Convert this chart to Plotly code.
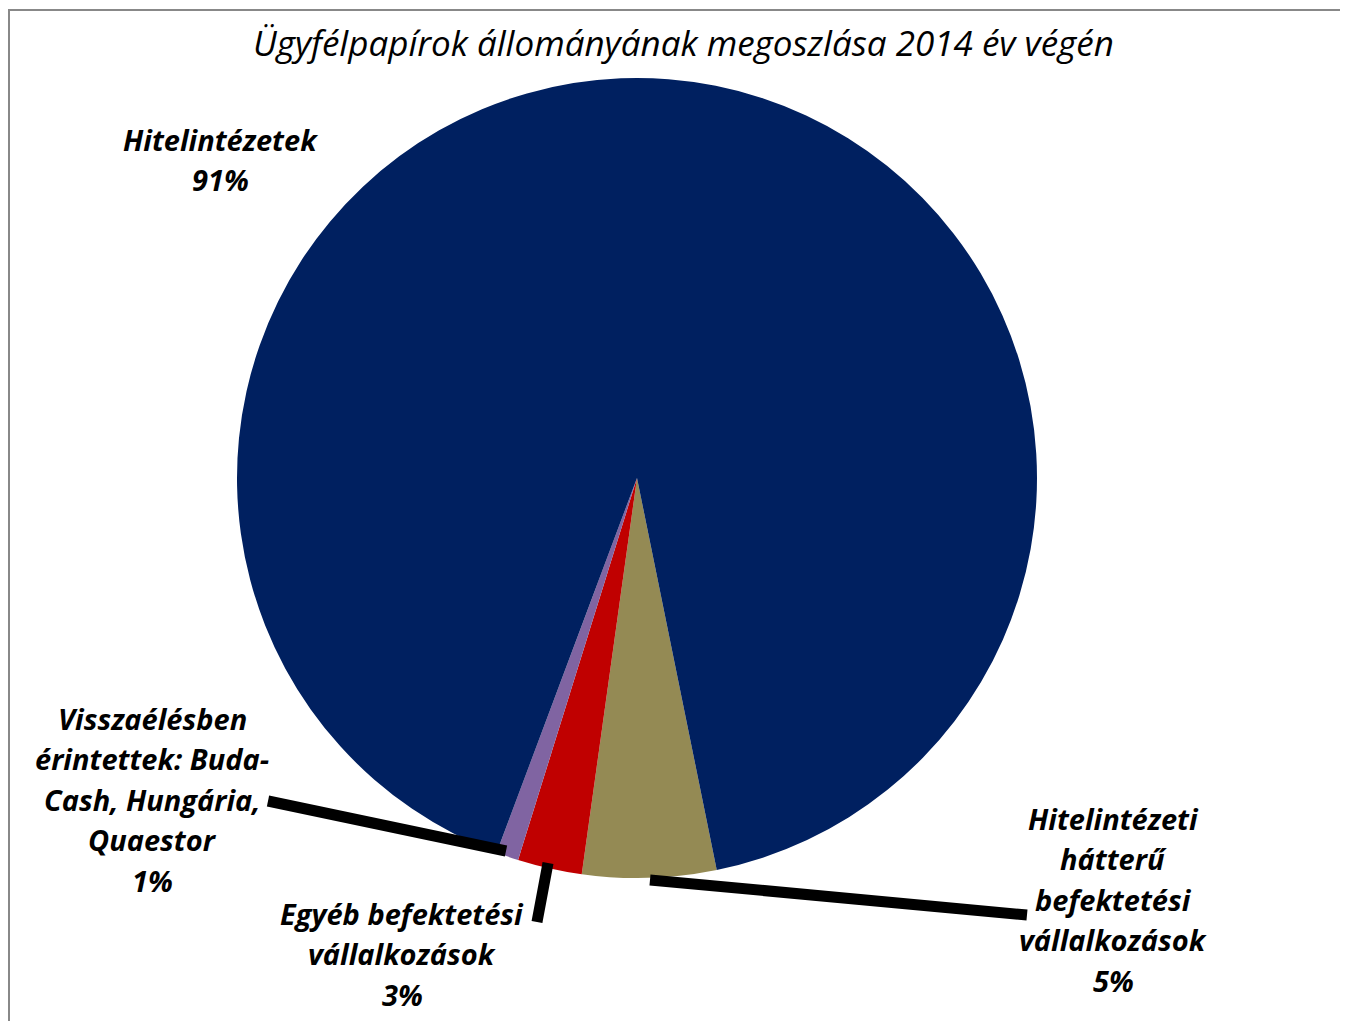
import plotly.graph_objects as go

W, H = 1348, 1021
OFF = 8  # page body margin offset

# ---- data ----
categories = [
    "Hitelintézeti hátterű befektetési vállalkozások",
    "Egyéb befektetési vállalkozások",
    "Visszaélésben érintettek: Buda-Cash, Hungária, Quaestor",
    "Hitelintézetek",
]
values = [5.4, 2.6, 0.9, 91.1]
pct_labels = ["5%", "3%", "1%", "91%"]
label_lines = [
    ["Hitelintézeti", "hátterű", "befektetési", "vállalkozások"],
    ["Egyéb befektetési", "vállalkozások"],
    ["Visszaélésben", "érintettek: Buda-", "Cash, Hungária,", "Quaestor"],
    ["Hitelintézetek"],
]
colors = ["#948A54", "#C00000", "#8064A2", "#002060"]
title = "Ügyfélpapírok állományának megoszlása 2014 év végén"

# ---- layout helpers (page pixel -> paper) ----
def px(x):
    return (x - OFF) / W

def py(y):
    return 1 - (y - OFF) / H

cx, cy, r = 637, 478, 400

fig = go.Figure(
    go.Pie(
        labels=categories,
        values=values,
        marker=dict(colors=colors, line=dict(width=0)),
        sort=False,
        direction="clockwise",
        rotation=168.5,
        textinfo="none",
        hoverinfo="label+percent",
        domain=dict(x=[px(cx - r), px(cx + r)], y=[py(cy + r), py(cy - r)]),
        showlegend=False,
    )
)

# label block positions (center x, first line y), line spacing
label_pos = [(1113, 818), (402, 913), (152, 718), (221, 139)]
spacing = 40.5
annotations = []
for lines, pct, (lx, ly) in zip(label_lines, pct_labels, label_pos):
    for i, t in enumerate(lines + [pct]):
        annotations.append(
            dict(
                text=f"<b><i>{t}</i></b>",
                x=px(lx), y=py(ly + i * spacing),
                xref="paper", yref="paper",
                xanchor="center", yanchor="middle",
                showarrow=False,
                font=dict(family="Open Sans", size=29, color="#000000"),
            )
        )

annotations.append(
    dict(
        text=f"<i>{title}</i>",
        x=px(683), y=py(42),
        xref="paper", yref="paper",
        xanchor="center", yanchor="middle",
        showarrow=False,
        font=dict(family="Open Sans", size=35, color="#000000"),
    )
)

# leader lines (pixel coordinates)
leaders = [
    ((1027, 915), (650, 880)),
    ((537, 922), (548, 863)),
    ((268, 801), (506, 851)),
]
shapes = []
for (x0, y0), (x1, y1) in leaders:
    shapes.append(
        dict(type="line", xref="paper", yref="paper",
             x0=px(x0), y0=py(y0), x1=px(x1), y1=py(y1),
             line=dict(color="#000000", width=11))
    )
# chart border
shapes.append(
    dict(type="rect", xref="paper", yref="paper",
         x0=px(9), y0=py(1040), x1=px(1370), y1=py(10),
         line=dict(color="#888888", width=2))
)

fig.update_layout(
    width=W, height=H,
    margin=dict(l=0, r=0, t=0, b=0),
    paper_bgcolor="#FFFFFF",
    plot_bgcolor="#FFFFFF",
    annotations=annotations,
    shapes=shapes,
)

fig.write_html("out.html")
